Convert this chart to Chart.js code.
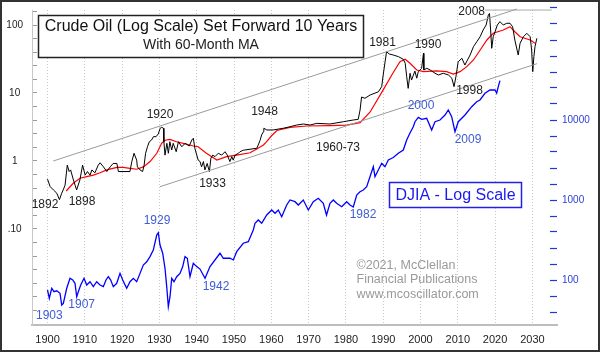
<!DOCTYPE html>
<html>
<head>
<meta charset="utf-8">
<script src="https://cdn.jsdelivr.net/npm/chart.js@4.4.1/dist/chart.umd.min.js"></script>
<style>
  html, body { margin: 0; padding: 0; background: #fff; }
  canvas { display: block; }
</style>
</head>
<body>
<canvas id="canvas" width="600" height="352"></canvas>
<script>
// crude oil: actual year, $/bbl (plotted 10 years forward)
const SHIFT_YEARS = 10;
const oilYears = [1890.0, 1890.7, 1891.6, 1892.5, 1893.2, 1893.8, 1894.2, 1894.7, 1895.3, 1895.8, 1896.2, 1896.8, 1897.4, 1897.8, 1898.7, 1899.4,
  1900.1, 1900.7, 1901.4, 1901.9, 1902.7, 1903.6, 1904.1, 1905.0, 1905.9, 1906.8, 1907.6, 1908.6, 1909.0, 1912.1, 1912.6, 1913.2,
  1913.9, 1914.1, 1914.8, 1915.5, 1915.9, 1916.3, 1916.8, 1917.3, 1917.9, 1918.4, 1919.1, 1919.7, 1920.2, 1920.6, 1921.1, 1921.2,
  1921.5, 1922.0, 1922.4, 1922.8, 1923.3, 1923.7, 1924.5, 1925.1, 1926.0, 1926.9, 1928.0, 1928.7, 1929.1, 1929.5, 1930.4, 1930.9,
  1931.3, 1931.8, 1932.2, 1932.8, 1933.4, 1933.8, 1934.3, 1934.9, 1935.8, 1936.7, 1937.6, 1938.2, 1938.9, 1939.4, 1939.8, 1940.3,
  1941.2, 1941.6, 1942.5, 1946.1, 1946.5, 1947.0, 1947.4, 1947.9, 1948.0, 1948.8, 1950.5, 1953.2, 1955.0, 1956.8, 1958.6, 1960.4,
  1962.2, 1965.7, 1969.3, 1972.0, 1973.3, 1973.8, 1974.2, 1975.1, 1976.5, 1978.7, 1979.6, 1980.0, 1980.5, 1980.9, 1981.6, 1982.7,
  1984.1, 1985.4, 1985.9, 1986.3, 1986.7, 1987.2, 1987.6, 1988.5, 1989.0, 1989.4, 1990.3, 1990.8, 1990.9, 1991.7, 1992.6, 1993.9,
  1994.8, 1996.1, 1997.5, 1998.4, 1999.0, 1999.5, 2000.1, 2001.1, 2001.9, 2002.6, 2003.3, 2004.2, 2005.1, 2006.0, 2006.8, 2007.6,
  2008.2, 2008.5, 2008.8, 2009.1, 2009.5, 2010.0, 2010.6, 2011.3, 2012.2, 2013.1, 2014.0, 2014.7, 2015.3, 2016.2, 2016.7, 2017.6,
  2018.5, 2019.4, 2019.8, 2020.1, 2020.4, 2020.7, 2021.2];
const oilPrices = [0.54, 0.42, 0.375, 0.335, 0.27, 0.335, 0.375, 0.44, 0.87, 0.70, 0.74, 0.56, 0.44, 0.375, 0.53, 0.87,
  0.62, 0.70, 0.62, 0.74, 0.67, 0.87, 0.94, 0.82, 0.70, 0.82, 0.92, 0.92, 0.70, 0.70, 0.98, 1.30,
  1.03, 0.82, 0.74, 0.70, 0.87, 1.30, 1.62, 1.92, 2.04, 2.28, 2.28, 2.50, 3.03, 3.13, 3.03, 1.92,
  1.22, 1.82, 1.30, 1.92, 1.45, 1.82, 1.37, 1.92, 1.62, 1.82, 1.66, 2.04, 2.16, 1.54, 1.03, 0.98,
  0.82, 0.98, 0.74, 0.92, 0.70, 1.10, 1.22, 1.16, 1.30, 1.22, 1.37, 1.22, 0.98, 1.16, 1.03, 1.22,
  1.30, 1.37, 1.44, 1.54, 1.72, 2.02, 2.41, 2.70, 3.03, 2.86, 2.86, 3.03, 3.19, 3.38, 3.50, 3.38,
  3.58, 3.50, 3.78, 4.01, 4.1, 5.62, 8.73, 8.36, 9.35, 10.4, 12.4, 18.4, 28.6, 40.5, 37.5, 36.2,
  34.2, 31.3, 27.4, 17.4, 11.7, 19.5, 15.5, 21.0, 16.5, 20.6, 23.0, 38.4, 21.8, 23.1, 21.8, 19.5,
  18.4, 19.5, 18.4, 16.5, 12.4, 17.4, 28.8, 32.4, 25.8, 30.6, 36.2, 48, 56.8, 67.3, 84.4, 100,
  140, 148, 84.4, 45.4, 67.3, 79.7, 100, 112, 100, 106, 106, 94.4, 60.1, 36.2, 53.9, 67.3,
  75.5, 67.3, 42.9, 20.6, 34.2, 48, 63.7];

// 60-month moving average of oil (actual year)
const maYears = [1895.0, 1896.9, 1898.7, 1900.5, 1902.3, 1904.1, 1905.9, 1908.6, 1910.3, 1912.1, 1913.9, 1915.7, 1917.5, 1919.3,
  1920.6, 1921.5, 1922.8, 1924.6, 1926.4, 1929.1, 1930.4, 1932.5, 1935.4, 1938.0, 1940.7, 1944.3, 1946.1, 1947.9, 1948.8,
  1950.0, 1951.5, 1955.0, 1959.5, 1965.7, 1970.2, 1973.8, 1976.5, 1980.0, 1982.7, 1984.5, 1985.9, 1987.2, 1989.0, 1990.8,
  1994.3, 1997.0, 1998.8, 2000.6, 2002.4, 2004.2, 2006.0, 2007.8, 2009.5, 2012.2, 2014.0, 2015.3, 2016.7, 2019.4, 2020.7];
const maPrices = [0.362, 0.47, 0.557, 0.588, 0.62, 0.673, 0.74, 0.807, 0.807, 0.781, 0.756, 0.82, 0.98, 1.30,
  1.82, 2.02, 2.08, 1.92, 1.82, 1.66, 1.62, 1.31, 1.03, 1.16, 1.22, 1.32, 1.50, 1.72, 1.94,
  2.33, 2.81, 3.13, 3.27, 3.31, 3.38, 3.66, 5.26, 11.1, 20.0, 28.8, 31.3, 27.4, 21.8, 20.6,
  21.1, 20.6, 19.0, 20.6, 24.4, 30.6, 42.9, 60.2, 75.5, 84.4, 94.4, 79.7, 67.3, 60.1, 53.9];

// DJIA
const djiaYears = [1900.00, 1900.48, 1901.13, 1901.74, 1902.47, 1903.35, 1903.81, 1904.24, 1905.15, 1906.03, 1906.76, 1907.37,
  1907.83, 1908.26, 1908.90, 1909.79, 1910.51, 1911.39, 1912.28, 1913.19, 1914.08, 1914.96, 1915.68, 1916.30, 1916.94, 1917.64,
  1918.55, 1919.44, 1920.16, 1921.23, 1922.12, 1923.00, 1923.91, 1924.80, 1925.68, 1926.60, 1927.48, 1928.36, 1929.28, 1929.71,
  1930.16, 1930.88, 1931.50, 1931.96, 1932.39, 1932.84, 1933.30, 1933.91, 1934.64, 1935.52, 1936.25, 1936.86, 1937.48, 1938.20,
  1939.09, 1940.00, 1940.88, 1942.23, 1943.57, 1946.25, 1947.13, 1948.93, 1949.81, 1950.72, 1952.49, 1953.83, 1955.17, 1955.63,
  1956.51, 1957.43, 1958.77, 1960.11, 1961.00, 1961.88, 1962.79, 1964.13, 1965.01, 1966.35, 1967.24, 1968.58, 1969.92, 1971.26,
  1972.60, 1973.94, 1974.80, 1975.74, 1976.62, 1977.53, 1978.87, 1980.21, 1981.10, 1981.98, 1982.90, 1983.78, 1984.66, 1985.58,
  1986.46, 1987.35, 1987.80, 1988.69, 1989.60, 1990.48, 1991.37, 1992.71, 1994.05, 1995.39, 1996.30, 1997.18, 1998.07, 1998.53,
  1999.41, 2000.32, 2001.66, 2003.00, 2003.89, 2005.23, 2006.57, 2007.45, 2008.36, 2009.25, 2010.13, 2011.93, 2013.73, 2015.07,
  2015.95, 2017.29, 2018.63, 2019.97, 2020.43, 2020.86, 2021.31];
const djiaValues = [75.0, 59.1, 78.8, 71.4, 73.2, 68.2, 48.7, 51.1, 78.8, 105, 100, 91.0,
  61.8, 71.4, 86.6, 105, 86.6, 95.2, 82.5, 95.2, 86.6, 82.5, 100, 110, 100, 82.5,
  91.0, 121, 100, 78.8, 95.2, 105, 95.2, 121, 154, 169, 196, 237, 365, 390,
  274, 216, 140, 82.5, 46.4, 61.8, 105, 95.2, 110, 121, 147, 196, 187, 110,
  162, 147, 137, 105, 147, 216, 187, 187, 178, 226, 288, 301, 422, 511,
  562, 511, 649, 750, 682, 750, 618, 866, 1000, 953, 866, 1000, 750, 953,
  1050, 909, 649, 909, 1000, 909, 825, 953, 866, 818, 1155, 1270, 1334, 1466,
  1955, 2608, 1955, 2371, 2877, 2608, 3162, 3398, 3837, 4217, 5623, 6878, 8248, 9520,
  10800, 10200, 10500, 7500, 9520, 10000, 11550, 13340, 11000, 7140, 9520, 11550, 14660, 16940,
  17780, 21580, 23710, 23710, 21580, 26080, 31000];

// trend channel drawn on the plotted (shifted) oil scale
const channelUpperYears = [1901.55, 2025.87];
const channelUpperPrices = [1.0, 172];
const channelLowerYears = [1930.16, 2031.23];
const channelLowerPrices = [0.419, 27.0];
const topLineYears = [2017.3, 2035.2];
const topLinePrices = [166, 166];

const xTickYears = [1900, 1910, 1920, 1930, 1940, 1950, 1960, 1970, 1980, 1990, 2000, 2010, 2020, 2030];
const oilLabelValues = [0.1, 1, 10, 100];
const oilLabelTexts = ['.10', '1', '10', '100'];
const djiaLabelValues = [100, 1000, 10000];
const djiaLabelTexts = ['100', '1000', '10000'];

const FONT = "'Liberation Sans', Arial, sans-serif";
const INK = '#222';
const NOTE_BLUE = '#3f5bd5';

const blackNotes = [
  ['1892', 45, 205], ['1898', 82, 202], ['1920', 160, 115], ['1933', 212.5, 184], ['1948', 264.5, 111.7],
  ['1960-73', 338, 147.5], ['1981', 382.5, 42.5], ['1990', 428, 44.5], ['2008', 471.7, 12], ['1998', 469.5, 91],
];
const blueNotes = [
  ['1903', 49.3, 316], ['1907', 81.7, 305], ['1929', 157, 221], ['1942', 216, 286.7], ['1982', 363, 215],
  ['2000', 421, 106], ['2009', 468, 139.5],
];
const watermark = ['\u00a92021, McClellan', 'Financial Publications', 'www.mcoscillator.com'];

const pts = (xs, ys, shift) => xs.map((x, i) => ({ x: x + (shift || 0), y: ys[i] }));
const logTicks = (lo, hi) => {
  const out = [];
  for (let k = lo; k <= hi; k++) out.push({ value: Math.pow(10, k / 5) });
  return out;
};
const labelFor = (vals, texts) => (v) => {
  const i = vals.findIndex((t) => Math.abs(t - v) / t < 1e-6);
  return i >= 0 ? texts[i] : '';
};
// keep the plot area where the original has it
const fixY = (w) => (s) => {
  s.width = w;
  s.paddingTop = 0;
  s.paddingBottom = 0;
};

const decor = {
  id: 'decor',
  afterDraw(chart) {
    const c = chart.ctx;
    c.save();
    c.textAlign = 'center';
    c.textBaseline = 'middle';

    // title box
    c.fillStyle = '#fff';
    c.fillRect(38.5, 15.5, 325, 42);
    c.strokeStyle = '#222';
    c.lineWidth = 1.5;
    c.strokeRect(38.5, 15.5, 325, 42);
    c.fillStyle = '#111';
    c.font = '16px ' + FONT;
    c.fillText('Crude Oil (Log Scale) Set Forward 10 Years', 201, 27);
    c.font = '14px ' + FONT;
    c.fillStyle = INK;
    c.fillText('With 60-Month MA', 201, 45.5);

    // DJIA box
    c.fillStyle = '#fff';
    c.fillRect(389.5, 182.5, 132, 25);
    c.strokeStyle = '#2020e8';
    c.strokeRect(389.5, 182.5, 132, 25);
    c.fillStyle = '#1a1aee';
    c.font = '16px ' + FONT;
    c.fillText('DJIA - Log Scale', 455.5, 195.5);

    c.font = '12px ' + FONT;
    c.fillStyle = INK;
    blackNotes.forEach(([t, x, y]) => c.fillText(t, x, y));
    c.fillStyle = NOTE_BLUE;
    blueNotes.forEach(([t, x, y]) => c.fillText(t, x, y));

    c.textAlign = 'left';
    c.font = '12.5px ' + FONT;
    c.fillStyle = '#9a9a9a';
    watermark.forEach((t, i) => c.fillText(t, 356.5, 265.5 + i * 14.5));

    // outer frame
    c.strokeStyle = '#333';
    c.lineWidth = 2;
    c.strokeRect(1, 1, 598, 350);
    c.restore();
  },
};

const ctx = document.getElementById('canvas');
const myChart = new Chart(ctx, {
  type: 'line',
  data: {
    datasets: [
      { data: pts(channelUpperYears, channelUpperPrices), yAxisID: 'y', borderColor: '#9a9a9a', borderWidth: 1, clip: false },
      { data: pts(channelLowerYears, channelLowerPrices), yAxisID: 'y', borderColor: '#9a9a9a', borderWidth: 1, clip: false },
      { data: pts(topLineYears, topLinePrices), yAxisID: 'y', borderColor: '#aaa', borderWidth: 1, clip: false },
      { data: pts(djiaYears, djiaValues), yAxisID: 'y2', borderColor: '#0000ff', borderWidth: 1.3 },
      { data: pts(oilYears, oilPrices, SHIFT_YEARS), yAxisID: 'y', borderColor: '#000', borderWidth: 1 },
      { data: pts(maYears, maPrices, SHIFT_YEARS), yAxisID: 'y', borderColor: '#ff0000', borderWidth: 1.2 },
    ],
  },
  options: {
    responsive: false,
    animation: false,
    events: [],
    layout: { padding: { top: 10, left: 0, right: 0, bottom: 0 } },
    elements: { point: { radius: 0 }, line: { tension: 0 } },
    plugins: { legend: { display: false }, tooltip: { enabled: false } },
    scales: {
      x: {
        type: 'linear',
        min: 1895.84,
        max: 2036.6,
        afterBuildTicks: (s) => { s.ticks = xTickYears.map((v) => ({ value: v })); },
        afterFit: (s) => { s.height = 27; s.paddingLeft = 0; s.paddingRight = 0; },
        ticks: { autoSkip: false, maxRotation: 0, padding: 8, color: INK, font: { family: FONT, size: 11 }, callback: (v) => String(v) },
        grid: { color: '#c8c8c8', lineWidth: 1, drawTicks: false },
        border: { display: true, color: '#bdbdbd', width: 2, dash: [1, 2] },
      },
      y: {
        type: 'logarithmic',
        position: 'left',
        min: Math.pow(10, -2.4118),
        max: Math.pow(10, 2.2206),
        afterBuildTicks: (s) => { s.ticks = logTicks(-11, 11); },
        afterFit: fixY(32),
        ticks: { autoSkip: false, crossAlign: 'center', padding: 14, color: INK, font: { family: FONT, size: 10 },
          callback: labelFor(oilLabelValues, oilLabelTexts) },
        grid: { drawOnChartArea: false, drawTicks: true, tickLength: -5, tickColor: '#9a9a9a', tickWidth: 1 },
        border: { display: true, color: '#c8c8c8', width: 1 },
      },
      y2: {
        type: 'logarithmic',
        position: 'right',
        min: Math.pow(10, 1.4375),
        max: Math.pow(10, 5.375),
        afterBuildTicks: (s) => { s.ticks = logTicks(8, 27); },
        afterFit: fixY(43),
        ticks: { autoSkip: false, padding: 12, color: '#2b3fd6', font: { family: FONT, size: 10 },
          callback: labelFor(djiaLabelValues, djiaLabelTexts) },
        grid: { drawOnChartArea: false, drawTicks: true, tickLength: -7, tickColor: '#2233e0', tickWidth: 1.2 },
        border: { display: false },
      },
    },
  },
  plugins: [decor],
});
</script>
</body>
</html>
